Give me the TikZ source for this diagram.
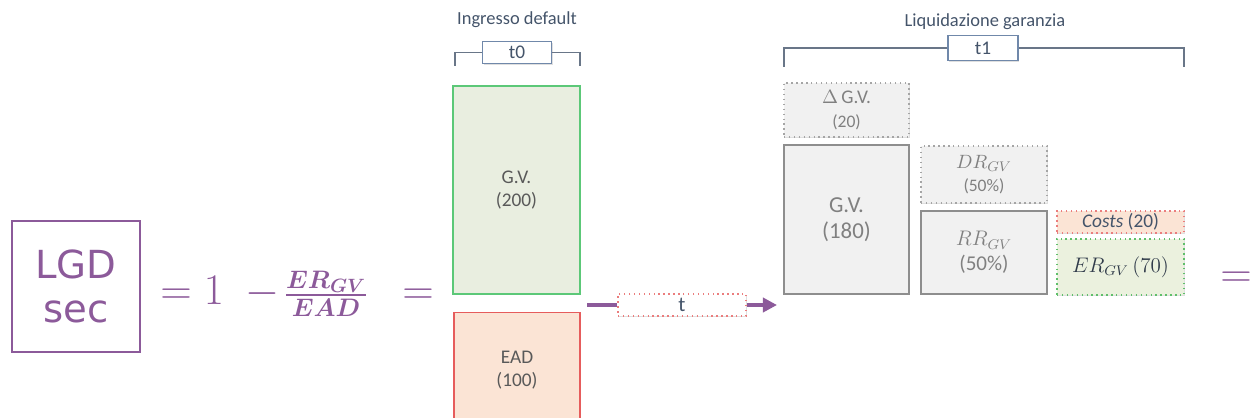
\documentclass[tikz,border=0pt]{standalone}
\usepackage{amsmath,amssymb,bm}
\usepackage{fontspec}
\setmainfont{Carlito}
\newfontfamily\lgdfont{DejaVu Sans}
\usetikzlibrary{arrows.meta,positioning,shadows}

\definecolor{lgdpurple}{HTML}{8C5A9A}
\definecolor{slate}{HTML}{44546A}
\definecolor{framebl}{HTML}{7088AA}
\definecolor{gvgreen}{HTML}{5CC878}
\definecolor{gvfill}{HTML}{E9EEE0}
\definecolor{eadred}{HTML}{E65C5C}
\definecolor{eadfill}{HTML}{FBE4D5}
\definecolor{boxgray}{HTML}{8E8E8E}
\definecolor{boxfill}{HTML}{F1F1F1}
\definecolor{txtdark}{HTML}{595959}
\definecolor{txtlight}{HTML}{808080}
\definecolor{erfill}{HTML}{EBF1DE}
\definecolor{ergreen}{HTML}{5FBF6A}

\begin{document}
\begin{tikzpicture}[x=0.02cm,y=-0.02cm,
    formula/.style={text=lgdpurple,font=\fontsize{24}{26}\selectfont,inner sep=0pt,anchor=base},
    title/.style={text=slate,font=\fontsize{10.5}{12}\selectfont},
    tbox/.style={draw=framebl,line width=0.8pt,fill=white,text=slate,font=\fontsize{11}{12}\selectfont,
      drop shadow={opacity=0.25,shadow xshift=0.8pt,shadow yshift=-0.8pt}},
    bracket/.style={draw=slate!80,line width=0.9pt},
    box/.style={line width=0.8pt,align=center,inner sep=0pt,font=\fontsize{11}{13}\selectfont},
    shade/.style={drop shadow={opacity=0.25,shadow xshift=0.8pt,shadow yshift=-0.8pt}},
    grey/.style={box,draw=boxgray,fill=boxfill,text=txtlight,shade},
    greydot/.style={grey,draw=boxgray!80,dotted,line width=0.9pt},
    flow/.style={draw=lgdpurple,line width=2pt}]
  \useasboundingbox (0,0) rectangle (1250,417);

  % left side: the formula
  \node[draw=lgdpurple,line width=1.2pt,minimum width=2.56cm,minimum height=2.62cm,align=center,
    text=lgdpurple,font=\lgdfont\fontsize{22}{25}\selectfont] (lgd) at (76,286.5) {LGD\\sec};
  \node[formula] (eqa) at (176,304) {$=$};
  \node[formula] (one) at (214,304) {$1$};
  \node[formula] (minus) at (262,304) {$-$};
  \node[formula,font=\fontsize{22}{24}\selectfont] (frac) at (326,304)
    {$\frac{\boldsymbol{ER_{GV}}}{\boldsymbol{EAD}}$};
  \node[formula] (eqb) at (418,304) {$=$};

  % t0: ingresso default
  \node[title] (tit0) at (517,20) {Ingresso default};
  \node[tbox,minimum width=1.38cm,minimum height=0.44cm,inner sep=0pt] (t0) at (517,52.5) {t0};
  \coordinate (t0l) at (455,66);
  \coordinate (t0r) at (580,66);
  \draw[bracket] (t0.west) -| (t0l);
  \draw[bracket] (t0.east) -| (t0r);

  \node[box,draw=gvgreen,fill=gvfill,text=txtdark,minimum width=2.54cm,minimum height=4.16cm]
    (gv0) at (516.5,190) {G.V.\\(200)};
  \node[box,draw=eadred,fill=eadfill,text=txtdark,minimum width=2.52cm,minimum height=2.3cm]
    (ead) at (517,370) {EAD\\(100)};

  % passage of time
  \coordinate (tstart) at (587,305);
  \coordinate (tend) at (777,305);
  \node[box,draw=eadred!80,dotted,line width=0.9pt,fill=white,text=slate,font=\fontsize{12}{13}\selectfont,
    minimum width=2.56cm,minimum height=0.44cm,shade] (t) at (682,305) {t};
  \draw[flow] (tstart) -- (t.west);
  \draw[flow,-{Triangle[length=8pt,width=8pt]}] (t.east) -- (tend);

  % t1: liquidazione garanzia
  \node[title] (tit1) at (985,22) {Liquidazione garanzia};
  \node[tbox,minimum width=1.4cm,minimum height=0.5cm,inner sep=0pt] (t1) at (983,48) {t1};
  \coordinate (t1l) at (784,67);
  \coordinate (t1r) at (1184,67);
  \draw[bracket] (t1.west) -| (t1l);
  \draw[bracket] (t1.east) -| (t1r);

  \node[greydot,minimum width=2.5cm,minimum height=1.08cm] (dgv) at (846.5,110)
    {$\Delta$\,G.V.\\[1pt]{\fontsize{10}{12}\selectfont(20)}};
  \node[grey,minimum width=2.5cm,minimum height=2.98cm,font=\fontsize{13}{15}\selectfont] (gv1) at (846.5,219.5)
    {G.V.\\(180)};
  \node[greydot,minimum width=2.52cm,minimum height=1.14cm] (dr) at (984,174.5)
    {$DR_{GV}$\\{\fontsize{10}{12}\selectfont(50\%)}};
  \node[grey,minimum width=2.52cm,minimum height=1.66cm,font=\fontsize{12}{14}\selectfont] (rr) at (984,252.5)
    {$RR_{GV}$\\(50\%)};
  \node[box,draw=eadred!80,dotted,line width=0.9pt,fill=eadfill,text=slate,shade,
    minimum width=2.54cm,minimum height=0.44cm] (costs) at (1120.5,222) {\textit{Costs} (20)};
  \node[box,draw=ergreen,dotted,line width=0.9pt,fill=erfill,text=slate!70!black,shade,
    font=\fontsize{12}{14}\selectfont,minimum width=2.54cm,minimum height=1.12cm] (er) at (1120.5,267)
    {$ER_{GV}\,(70)$};

  \node[formula] (eqc) at (1236,287) {$=$};
\end{tikzpicture}
\end{document}
